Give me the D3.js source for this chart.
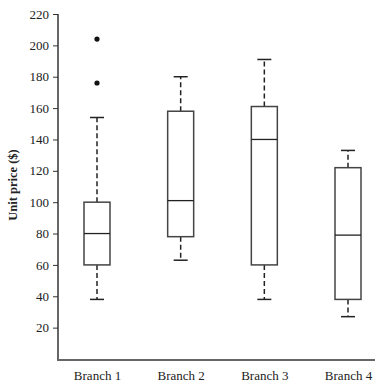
<!DOCTYPE html>
<html>
<head>
<meta charset="utf-8">
<script src="https://cdn.jsdelivr.net/npm/d3@7"></script>
<style>
	body { margin: 0; background: #fff; }
	text { font-family: "Liberation Serif", "Times New Roman", serif; fill: #222; }
</style>
</head>
<body>
<div id="svg-div"></div>
<script>
// data
var branches = ["Branch 1", "Branch 2", "Branch 3", "Branch 4"];
var whiskerLow = [38, 63, 38, 27];
var q1 = [60, 78, 60, 38];
var median = [80, 101, 140, 79];
var q3 = [100, 158, 161, 122];
var whiskerHigh = [154, 180, 191, 133];
var outliers = [[204, 176], [], [], []];
var yTicks = [20, 40, 60, 80, 100, 120, 140, 160, 180, 200, 220];

var width = 381, height = 390;

var svg = d3.select("#svg-div")
	.append("svg")
	.attr("width", width)
	.attr("height", height);

// Scale
var yScale = d3.scaleLinear()
	.domain([0, 220])
	.range([359, 14]);

var xScale = d3.scalePoint()
	.domain(branches)
	.range([97, 348]);

var axisColor = "#666";

// y axis
var yAxis = d3.axisLeft(yScale)
	.tickValues(yTicks)
	.tickSize(5)
	.tickPadding(4);

var gy = svg.append("g")
	.attr("transform", "translate(58,0)")
	.call(yAxis);
gy.select(".domain").remove();
gy.selectAll(".tick line").attr("stroke", "#333");
gy.selectAll(".tick text")
	.style("font-size", "13px")
	.style("font-family", "'Liberation Serif', serif")
	.attr("fill", "#222");
gy.append("line")
	.attr("x1", 0).attr("x2", 0)
	.attr("y1", 14).attr("y2", 361)
	.attr("stroke", "#333")
	.attr("stroke-width", 1.5);

// x axis
var xAxis = d3.axisBottom(xScale)
	.tickSize(0)
	.tickPadding(11);

var gx = svg.append("g")
	.attr("transform", "translate(0,360)")
	.call(xAxis);
gx.select(".domain").remove();
gx.selectAll(".tick text")
	.style("font-size", "13px")
	.style("font-family", "'Liberation Serif', serif")
	.attr("fill", "#222");
gx.append("line")
	.attr("x1", 57).attr("x2", 375)
	.attr("y1", 0).attr("y2", 0)
	.attr("stroke", axisColor)
	.attr("stroke-width", 2);

// y title
svg.append("text")
	.attr("transform", "translate(17,185) rotate(-90)")
	.attr("text-anchor", "middle")
	.style("font-size", "12.5px")
	.style("font-weight", "bold")
	.text("Unit price ($)");

// boxes
var boxW = 26, capW = 14;
var boxColor = "#444";

var g = svg.selectAll(".box")
	.data(branches)
	.enter()
	.append("g")
	.attr("class", "box");

// upper whisker
g.append("line")
	.attr("x1", function(d) { return xScale(d); })
	.attr("x2", function(d) { return xScale(d); })
	.attr("y1", function(d, i) { return yScale(q3[i]); })
	.attr("y2", function(d, i) { return yScale(whiskerHigh[i]); })
	.attr("stroke", "#222")
	.attr("stroke-width", 1.5)
	.attr("stroke-dasharray", "5,3");

// lower whisker
g.append("line")
	.attr("x1", function(d) { return xScale(d); })
	.attr("x2", function(d) { return xScale(d); })
	.attr("y1", function(d, i) { return yScale(q1[i]); })
	.attr("y2", function(d, i) { return yScale(whiskerLow[i]); })
	.attr("stroke", "#222")
	.attr("stroke-width", 1.5)
	.attr("stroke-dasharray", "5,3");

// caps
g.append("line")
	.attr("x1", function(d) { return xScale(d) - capW / 2; })
	.attr("x2", function(d) { return xScale(d) + capW / 2; })
	.attr("y1", function(d, i) { return yScale(whiskerHigh[i]); })
	.attr("y2", function(d, i) { return yScale(whiskerHigh[i]); })
	.attr("stroke", "#222")
	.attr("stroke-width", 1.5);

g.append("line")
	.attr("x1", function(d) { return xScale(d) - capW / 2; })
	.attr("x2", function(d) { return xScale(d) + capW / 2; })
	.attr("y1", function(d, i) { return yScale(whiskerLow[i]); })
	.attr("y2", function(d, i) { return yScale(whiskerLow[i]); })
	.attr("stroke", "#222")
	.attr("stroke-width", 1.5);

// box
g.append("rect")
	.attr("x", function(d) { return xScale(d) - boxW / 2; })
	.attr("y", function(d, i) { return yScale(q3[i]); })
	.attr("width", boxW)
	.attr("height", function(d, i) { return yScale(q1[i]) - yScale(q3[i]); })
	.attr("fill", "#fff")
	.attr("stroke", boxColor)
	.attr("stroke-width", 1.5);

// median
g.append("line")
	.attr("x1", function(d) { return xScale(d) - boxW / 2; })
	.attr("x2", function(d) { return xScale(d) + boxW / 2; })
	.attr("y1", function(d, i) { return yScale(median[i]); })
	.attr("y2", function(d, i) { return yScale(median[i]); })
	.attr("stroke", "#222")
	.attr("stroke-width", 1.3);

// outliers
branches.forEach(function(b, i) {
	svg.selectAll(".out" + i)
		.data(outliers[i])
		.enter()
		.append("circle")
		.attr("class", "out" + i)
		.attr("cx", xScale(b))
		.attr("cy", function(v) { return yScale(v); })
		.attr("r", 2.6)
		.attr("fill", "#111");
});
</script>
</body>
</html>
